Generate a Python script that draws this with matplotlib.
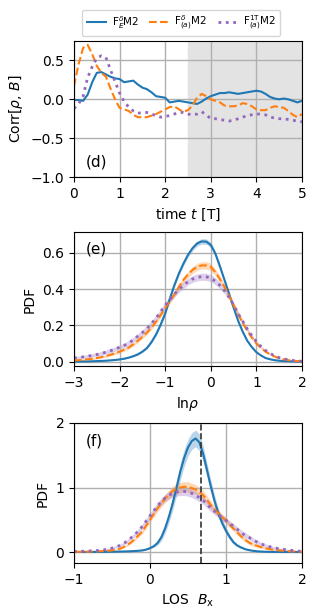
import numpy as np
import matplotlib
matplotlib.use("Agg")
import matplotlib.pyplot as plt

# ---- data ----
labels = [r'F$^{\delta}_{E}$M2', r'F$^{\delta}_{(a)}$M2', r'F$^{1\mathrm{T}}_{(a)}$M2']

# (d) correlation vs time
t = np.linspace(0, 5, 51)
corr_E = [-0.01, -0.01, -0.02, 0.06, 0.22, 0.34, 0.35, 0.32, 0.29, 0.27,
          0.26, 0.22, 0.23, 0.24, 0.19, 0.15, 0.13, 0.09, 0.04, 0.03,
          0.02, -0.04, -0.03, -0.02, -0.03, -0.04, -0.05, -0.06, -0.03, 0.01,
          0.04, 0.06, 0.08, 0.08, 0.09, 0.08, 0.07, 0.08, 0.09, 0.10,
          0.11, 0.10, 0.07, 0.03, 0.01, 0.00, 0.01, 0.00, -0.02, -0.04, -0.02]
corr_a = [0.17, 0.45, 0.66, 0.70, 0.58, 0.43, 0.34, 0.29, 0.14, 0.00,
          -0.11, -0.13, -0.15, -0.20, -0.23, -0.23, -0.23, -0.21, -0.19, -0.16,
          -0.13, -0.10, -0.09, -0.13, -0.16, -0.14, -0.08, 0.02, 0.07, 0.04,
          0.00, -0.02, -0.04, -0.08, -0.09, -0.09, -0.08, -0.05, -0.06, -0.09,
          -0.13, -0.14, -0.14, -0.11, -0.09, -0.10, -0.11, -0.15, -0.20, -0.23, -0.19]
corr_1T = [-0.12, -0.06, 0.04, 0.28, 0.42, 0.53, 0.56, 0.54, 0.38, 0.23,
           0.08, -0.03, -0.10, -0.15, -0.18, -0.17, -0.17, -0.19, -0.21, -0.23,
           -0.22, -0.21, -0.19, -0.17, -0.17, -0.19, -0.20, -0.19, -0.16, -0.20,
           -0.25, -0.25, -0.26, -0.27, -0.28, -0.27, -0.25, -0.23, -0.21, -0.20,
           -0.19, -0.19, -0.20, -0.23, -0.24, -0.25, -0.25, -0.26, -0.27, -0.28, -0.29]
t_stat = 2.5

# (e) PDF of ln rho
lnrho = np.linspace(-3, 2, 51)
pdf_rho_E = [0.000, 0.000, 0.001, 0.001, 0.002, 0.003, 0.004, 0.005, 0.007, 0.009,
             0.012, 0.016, 0.022, 0.030, 0.040, 0.055, 0.075, 0.108, 0.150, 0.203,
             0.265, 0.345, 0.420, 0.485, 0.540, 0.588, 0.625, 0.651, 0.662, 0.661,
             0.643, 0.595, 0.525, 0.450, 0.375, 0.298, 0.225, 0.165, 0.115, 0.080,
             0.052, 0.034, 0.020, 0.013, 0.008, 0.005, 0.003, 0.002, 0.001, 0.000, 0.000]
pdf_rho_a = [0.006, 0.008, 0.010, 0.013, 0.016, 0.020, 0.025, 0.031, 0.038, 0.046,
             0.055, 0.066, 0.078, 0.095, 0.115, 0.137, 0.160, 0.188, 0.220, 0.256,
             0.295, 0.333, 0.370, 0.412, 0.450, 0.480, 0.505, 0.522, 0.530, 0.530,
             0.522, 0.493, 0.455, 0.412, 0.365, 0.312, 0.260, 0.213, 0.170, 0.132,
             0.100, 0.075, 0.055, 0.040, 0.028, 0.019, 0.013, 0.008, 0.005, 0.003, 0.002]
pdf_rho_1T = [0.020, 0.023, 0.026, 0.030, 0.034, 0.039, 0.045, 0.052, 0.060, 0.069,
              0.079, 0.089, 0.102, 0.120, 0.140, 0.160, 0.182, 0.210, 0.240, 0.275,
              0.310, 0.342, 0.372, 0.398, 0.420, 0.440, 0.455, 0.464, 0.468, 0.467,
              0.460, 0.443, 0.420, 0.390, 0.355, 0.312, 0.265, 0.222, 0.180, 0.143,
              0.110, 0.084, 0.062, 0.045, 0.032, 0.022, 0.015, 0.010, 0.006, 0.004, 0.002]
err_rho_E = [0, 0, 0, 0, 0, 0, 0.001, 0.001, 0.001, 0.001,
             0.002, 0.002, 0.003, 0.003, 0.004, 0.005, 0.006, 0.007, 0.008, 0.009,
             0.010, 0.011, 0.012, 0.012, 0.013, 0.013, 0.014, 0.014, 0.015, 0.015,
             0.015, 0.014, 0.013, 0.012, 0.011, 0.009, 0.008, 0.006, 0.005, 0.004,
             0.003, 0.002, 0.002, 0.001, 0.001, 0, 0, 0, 0, 0, 0]
err_rho_a = [0.003, 0.003, 0.004, 0.004, 0.005, 0.005, 0.006, 0.006, 0.007, 0.007,
             0.008, 0.008, 0.009, 0.009, 0.010, 0.010, 0.011, 0.011, 0.012, 0.012,
             0.013, 0.014, 0.015, 0.016, 0.017, 0.018, 0.019, 0.019, 0.020, 0.020,
             0.020, 0.019, 0.017, 0.015, 0.013, 0.012, 0.010, 0.008, 0.007, 0.006,
             0.005, 0.004, 0.003, 0.002, 0.002, 0.001, 0.001, 0.001, 0.001, 0, 0]
err_rho_1T = [0.008, 0.008, 0.009, 0.009, 0.010, 0.010, 0.011, 0.011, 0.012, 0.012,
              0.013, 0.013, 0.014, 0.014, 0.015, 0.015, 0.016, 0.016, 0.016, 0.016,
              0.016, 0.016, 0.017, 0.017, 0.018, 0.018, 0.019, 0.019, 0.020, 0.020,
              0.020, 0.019, 0.018, 0.016, 0.014, 0.012, 0.011, 0.009, 0.008, 0.006,
              0.005, 0.004, 0.003, 0.002, 0.002, 0.001, 0.001, 0.001, 0.001, 0, 0]

# (f) PDF of LOS Bx
bx = np.linspace(-1, 2, 61)
pdf_b_E = [0.0, 0.0, 0.0, 0.0, 0.0, 0.0, 0.001, 0.001, 0.002, 0.003,
           0.004, 0.005, 0.007, 0.008, 0.010, 0.012, 0.015, 0.019, 0.025, 0.038,
           0.06, 0.09, 0.14, 0.23, 0.37, 0.55, 0.76, 1.00, 1.25, 1.46,
           1.62, 1.72, 1.76, 1.70, 1.52, 1.27, 1.02, 0.79, 0.60, 0.45,
           0.33, 0.23, 0.15, 0.10, 0.07, 0.045, 0.03, 0.02, 0.012, 0.008,
           0.005, 0.003, 0.002, 0.001, 0.001, 0.0, 0.0, 0.0, 0.0, 0.0, 0.0]
pdf_b_a = [0.003, 0.003, 0.004, 0.005, 0.006, 0.008, 0.010, 0.013, 0.016, 0.020,
           0.026, 0.036, 0.050, 0.075, 0.11, 0.15, 0.20, 0.26, 0.32, 0.41,
           0.50, 0.59, 0.68, 0.76, 0.83, 0.89, 0.95, 0.98, 1.00, 1.01,
           1.01, 0.99, 0.97, 0.93, 0.88, 0.81, 0.73, 0.66, 0.60, 0.54,
           0.49, 0.42, 0.36, 0.30, 0.24, 0.19, 0.15, 0.12, 0.10, 0.08,
           0.065, 0.05, 0.04, 0.032, 0.025, 0.02, 0.015, 0.011, 0.008, 0.006, 0.004]
pdf_b_1T = [0.008, 0.009, 0.011, 0.013, 0.016, 0.019, 0.022, 0.028, 0.035, 0.046,
            0.06, 0.08, 0.10, 0.13, 0.17, 0.22, 0.27, 0.33, 0.40, 0.48,
            0.56, 0.64, 0.72, 0.78, 0.84, 0.88, 0.91, 0.93, 0.94, 0.94,
            0.93, 0.91, 0.88, 0.84, 0.80, 0.74, 0.68, 0.63, 0.58, 0.53,
            0.49, 0.44, 0.40, 0.35, 0.30, 0.26, 0.23, 0.19, 0.16, 0.13,
            0.11, 0.09, 0.075, 0.062, 0.05, 0.042, 0.035, 0.027, 0.02, 0.015, 0.01]
err_b_E = [0, 0, 0, 0, 0, 0, 0, 0, 0, 0,
           0, 0, 0.001, 0.001, 0.002, 0.002, 0.003, 0.004, 0.005, 0.007,
           0.01, 0.02, 0.035, 0.055, 0.075, 0.09, 0.11, 0.12, 0.13, 0.13,
           0.13, 0.13, 0.13, 0.13, 0.12, 0.11, 0.10, 0.085, 0.07, 0.06,
           0.05, 0.04, 0.03, 0.02, 0.015, 0.01, 0.008, 0.006, 0.004, 0.002,
           0.002, 0.001, 0.001, 0, 0, 0, 0, 0, 0, 0, 0]
err_b_a = [0.002, 0.002, 0.003, 0.003, 0.004, 0.004, 0.005, 0.005, 0.006, 0.007,
           0.008, 0.01, 0.012, 0.015, 0.018, 0.022, 0.025, 0.03, 0.035, 0.04,
           0.045, 0.05, 0.055, 0.06, 0.065, 0.07, 0.075, 0.078, 0.08, 0.08,
           0.08, 0.078, 0.075, 0.072, 0.07, 0.065, 0.06, 0.055, 0.05, 0.048,
           0.045, 0.042, 0.04, 0.037, 0.035, 0.032, 0.03, 0.027, 0.025, 0.022,
           0.02, 0.017, 0.015, 0.012, 0.01, 0.008, 0.007, 0.006, 0.005, 0.004, 0.003]
err_b_1T = [0.004, 0.004, 0.005, 0.006, 0.007, 0.008, 0.009, 0.01, 0.012, 0.014,
            0.016, 0.018, 0.02, 0.022, 0.025, 0.028, 0.03, 0.035, 0.04, 0.042,
            0.045, 0.048, 0.05, 0.052, 0.055, 0.058, 0.06, 0.062, 0.065, 0.065,
            0.065, 0.065, 0.065, 0.062, 0.06, 0.058, 0.055, 0.052, 0.05, 0.048,
            0.045, 0.043, 0.04, 0.04, 0.04, 0.038, 0.035, 0.032, 0.03, 0.027,
            0.025, 0.022, 0.02, 0.017, 0.015, 0.012, 0.01, 0.008, 0.008, 0.006, 0.005]
b_mean = 0.667

colors = ['#1f77b4', '#ff7f0e', '#9467bd']
styles = ['-', '--', ':']
widths = [1.5, 1.5, 2.0]

fig = plt.figure(figsize=(3.17, 6.11), dpi=100)
ax_d = fig.add_axes([0.2334, 0.7103, 0.7192, 0.2226])
ax_e = fig.add_axes([0.2334, 0.4010, 0.7192, 0.2193])
ax_f = fig.add_axes([0.2334, 0.0786, 0.7192, 0.2291])

# panel (d)
ax_d.axvspan(t_stat, 5, color='#e3e3e3', zorder=0)
for y, c, ls, lw, lab in zip([corr_E, corr_a, corr_1T], colors, styles, widths, labels):
    ax_d.plot(t, y, color=c, ls=ls, lw=lw, label=lab)
ax_d.set_xlim(0, 5)
ax_d.set_ylim(-1.0, 0.75)
ax_d.set_yticks([-1.0, -0.5, 0.0, 0.5])
ax_d.grid(True, color='#b0b0b0', lw=1)
ax_d.set_xlabel(r'time $t$ [T]')
ax_d.set_ylabel(r'Corr[$\rho$, $B$]')
ax_d.text(0.05, 0.08, '(d)', transform=ax_d.transAxes, fontsize=11)
ax_d.legend(loc='lower center', bbox_to_anchor=(0.47, 1.035), ncol=3,
            borderaxespad=0, fontsize=7.5, handlelength=1.9, columnspacing=1.0,
            handletextpad=0.5)

# panel (e)
for y, e, c, ls, lw in zip([pdf_rho_E, pdf_rho_a, pdf_rho_1T],
                           [err_rho_E, err_rho_a, err_rho_1T], colors, styles, widths):
    y = np.array(y)
    e = np.array(e)
    ax_e.fill_between(lnrho, y - e, y + e, color=c, alpha=0.3, lw=0)
    ax_e.plot(lnrho, y, color=c, ls=ls, lw=lw)
ax_e.set_xlim(-3, 2)
ax_e.set_ylim(-0.024, 0.714)
ax_e.set_yticks([0.0, 0.2, 0.4, 0.6])
ax_e.grid(True, color='#b0b0b0', lw=1)
ax_e.set_xlabel(r'ln$\rho$')
ax_e.set_ylabel('PDF')
ax_e.text(0.05, 0.84, '(e)', transform=ax_e.transAxes, fontsize=11)

# panel (f)
for y, e, c, ls, lw in zip([pdf_b_E, pdf_b_a, pdf_b_1T],
                           [err_b_E, err_b_a, err_b_1T], colors, styles, widths):
    y = np.array(y)
    e = np.array(e)
    ax_f.fill_between(bx, y - e, y + e, color=c, alpha=0.3, lw=0)
    ax_f.plot(bx, y, color=c, ls=ls, lw=lw)
ax_f.axvline(b_mean, color='#333333', ls='--', lw=1.2)
ax_f.set_xlim(-1, 2)
ax_f.set_ylim(-0.17, 2.0)
ax_f.set_yticks([0, 1, 2])
ax_f.grid(True, color='#b0b0b0', lw=1)
ax_f.set_xlabel(r'LOS  $B_\mathrm{x}$')
ax_f.set_ylabel('PDF')
ax_f.text(0.05, 0.84, '(f)', transform=ax_f.transAxes, fontsize=11)

fig.savefig('out.png', dpi=100)
